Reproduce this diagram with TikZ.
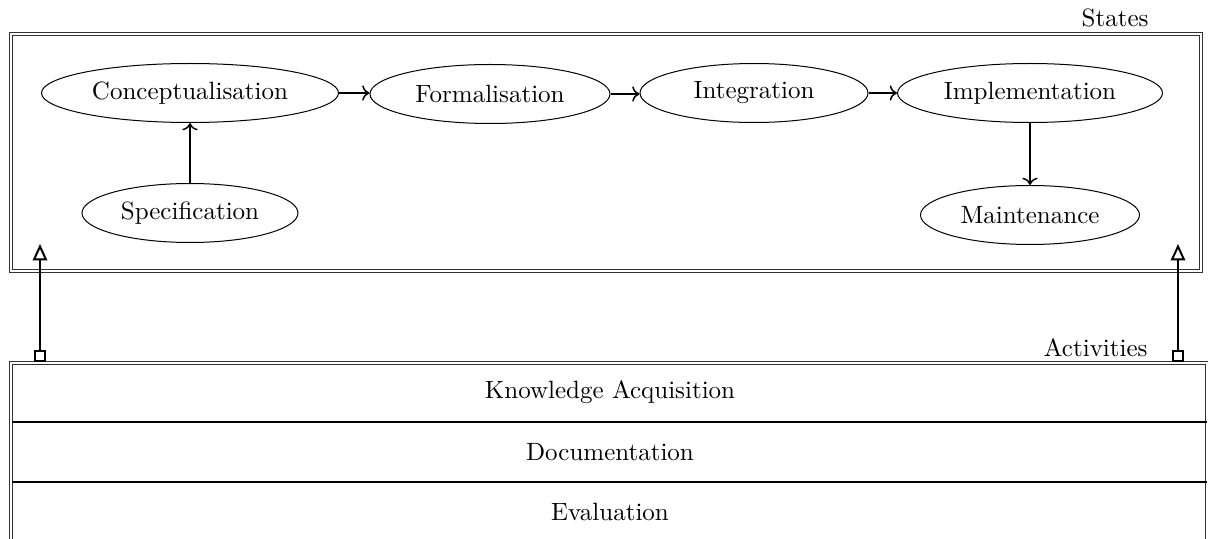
\documentclass[tikz,border=0pt]{standalone}
\usetikzlibrary{arrows.meta,shapes.geometric}
\begin{document}
\begin{tikzpicture}[x=0.4pt,y=-0.4pt,
  state/.style={draw,ellipse,inner sep=0pt,minimum height=23.6pt},
  flow/.style={-To,semithick},
  link/.style={{Square[open,length=4.8pt,width=4.8pt]}-{Triangle[open,length=6.6pt,width=5.8pt]},thick},
  frame/.style={draw=black!80,double,double distance=0.6pt,line width=0.4pt},
  rowline/.style={draw,line width=0.45pt},
  lab/.style={inner sep=0pt}]
\useasboundingbox (0,0) rectangle (1208,539);
\clip (0,0) rectangle (1208,539);
% States frame
\draw[frame] (11,34) rectangle (1201,271);
\node[lab,anchor=base east] (stlab) at (1149,27) {States};
% states
\node[state,minimum width=118.8pt] (con) at (190,93) {Conceptualisation};
\node[state,minimum width=96pt] (for) at (490,94) {Formalisation};
\node[state,minimum width=91.2pt] (int) at (754,93) {Integration};
\node[state,minimum width=106pt] (imp) at (1030,93) {Implementation};
\node[state,minimum width=86.4pt] (spe) at (190,213) {Specification};
\node[state,minimum width=87.6pt] (mai) at (1030,215) {Maintenance};
\draw[flow] (con.east) -- (con.east -| for.west);
\draw[flow] (for.east) -- (for.east -| int.west);
\draw[flow] (int.east) -- (imp.west);
\draw[flow] (spe) -- (con);
\draw[flow] (imp) -- (mai);
% Activities frame
\draw[frame] (11,363) rectangle (1207,560);
\node[lab,anchor=base east] (aclab) at (1148,356) {Activities};
\coordinate (r1) at (12,422);
\coordinate (r1e) at (1207,422);
\coordinate (r2) at (12,482);
\coordinate (r2e) at (1207,482);
\draw[rowline] (r1) -- (r1e);
\draw[rowline] (r2) -- (r2e);
\node (ka) at (610,392) {Knowledge Acquisition};
\node (doc) at (610,452) {Documentation};
\node (eva) at (610,512) {Evaluation};
% links
\coordinate (l0) at (40,362);
\coordinate (l1) at (40,244);
\coordinate (r0) at (1178,362);
\coordinate (r1t) at (1178,244);
\draw[link] (l0) -- (l1);
\draw[link] (r0) -- (r1t);
\end{tikzpicture}
\end{document}
